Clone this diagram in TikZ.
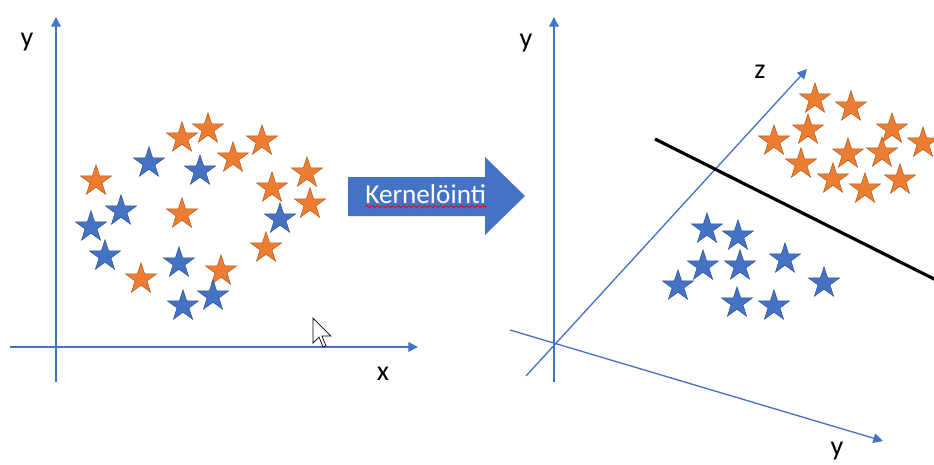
\documentclass[tikz,border=0pt]{standalone}
\usepackage{fontspec}
\setmainfont{Carlito}
\usetikzlibrary{shapes.geometric, arrows.meta, decorations.pathmorphing}
\definecolor{kblue}{HTML}{4472C4}
\definecolor{kblueline}{HTML}{2F528F}
\definecolor{korange}{HTML}{ED7D31}
\definecolor{korangeline}{HTML}{AE5A21}

\begin{document}
\begin{tikzpicture}[x=0.02cm, y=-0.02cm,
    axis/.style={kblue, line width=0.75pt, -{Triangle[length=5.5pt, width=5.5pt]}},
    bstar/.style={star, star points=5, star point ratio=2.6, minimum size=0.65cm, inner sep=0pt, fill=kblue, draw=kblueline, line width=0.3pt},
    ostar/.style={star, star points=5, star point ratio=2.6, minimum size=0.65cm, inner sep=0pt, fill=korange, draw=korangeline, line width=0.3pt},
    lbl/.style={font=\fontsize{16}{18}\selectfont}]
    \clip (0,0) rectangle (934,464);

    % Left plot: original data
    \coordinate (L0) at (56,347);
    \coordinate (Lyb) at (56,382);
    \coordinate (Lyt) at (56,17);
    \coordinate (Lxl) at (10,347);
    \coordinate (Lxr) at (418,347);
    \draw[axis] (Lyb) -- (Lyt);
    \draw[axis] (Lxl) -- (Lxr);
    \node[lbl] (Ly) at (27,42) {y};
    \node[lbl] (Lx) at (383,374) {x};

    \node[ostar] (lo1) at (96,181) {};
    \node[ostar] (lo2) at (182,138) {};
    \node[ostar] (lo3) at (208,129) {};
    \node[ostar] (lo4) at (233,158) {};
    \node[ostar] (lo5) at (262,141) {};
    \node[ostar] (lo6) at (307,173) {};
    \node[ostar] (lo7) at (272,188) {};
    \node[ostar] (lo8) at (310,204) {};
    \node[ostar] (lo9) at (182,214) {};
    \node[ostar] (lo10) at (266,248) {};
    \node[ostar] (lo11) at (221,271) {};
    \node[ostar] (lo12) at (141,279) {};
    \node[bstar] (lb1) at (149,163) {};
    \node[bstar] (lb2) at (200,171) {};
    \node[bstar] (lb3) at (121,211) {};
    \node[bstar] (lb4) at (91,227) {};
    \node[bstar] (lb5) at (105,256) {};
    \node[bstar] (lb6) at (179,263) {};
    \node[bstar] (lb7) at (280,219) {};
    \node[bstar] (lb8) at (213,296) {};
    \node[bstar] (lb9) at (183,306) {};

    % mouse pointer
    \draw[fill=white, line width=0.4pt] (313,318) -- ++(0,25) -- ++(6,-6) -- ++(4,10) -- ++(3,-1) -- ++(-4,-10) -- ++(9,0) -- cycle;

    % Kernel arrow
    \fill[kblue] (348,177) -- (485,177) -- (485,157) -- (525,196) -- (485,235) -- (485,216) -- (348,216) -- cycle;
    \node[anchor=base west, inner sep=0pt, text=white, font=\fontsize{15.5}{18}\selectfont] (kern) at (365,203) {Kernelöinti};
    \draw[red, line width=0.45pt, decorate, decoration={snake, segment length=3pt, amplitude=0.6pt}]
        ([yshift=-2pt]kern.base west) -- ([yshift=-2pt]kern.base east);

    % Right plot: kernel space
    \coordinate (R0) at (554,344);
    \coordinate (Ryb) at (554,382);
    \coordinate (Ryt) at (554,17);
    \coordinate (Rzb) at (526,376);
    \coordinate (Rzt) at (807,69);
    \coordinate (Rvl) at (510,330);
    \coordinate (Rvr) at (883,441);
    \draw[axis] (Ryb) -- (Ryt);
    \draw[axis] (Rzb) -- (Rzt);
    \draw[axis] (Rvl) -- (Rvr);
    \node[lbl] (Ry) at (526,43) {y};
    \node[lbl] (Rz) at (760,72) {z};
    \node[lbl] (Rv) at (837,451) {y};

    \coordinate (sepa) at (655,139);
    \coordinate (sepb) at (962,293);
    \draw[black, line width=1.8pt] (sepa) -- (sepb);

    \node[ostar] (ro1) at (815,99) {};
    \node[ostar] (ro2) at (851,107) {};
    \node[ostar] (ro3) at (808,130) {};
    \node[ostar] (ro4) at (774,141) {};
    \node[ostar] (ro5) at (892,129) {};
    \node[ostar] (ro6) at (923,143) {};
    \node[ostar] (ro7) at (848,154) {};
    \node[ostar] (ro8) at (882,153) {};
    \node[ostar] (ro9) at (801,164) {};
    \node[ostar] (ro10) at (833,179) {};
    \node[ostar] (ro11) at (865,189) {};
    \node[ostar] (ro12) at (900,180) {};
    \node[bstar] (rb1) at (707,229) {};
    \node[bstar] (rb2) at (738,236) {};
    \node[bstar] (rb3) at (703,266) {};
    \node[bstar] (rb4) at (740,266) {};
    \node[bstar] (rb5) at (785,259) {};
    \node[bstar] (rb6) at (678,286) {};
    \node[bstar] (rb7) at (824,283) {};
    \node[bstar] (rb8) at (737,303) {};
    \node[bstar] (rb9) at (774,306) {};
\end{tikzpicture}
\end{document}
